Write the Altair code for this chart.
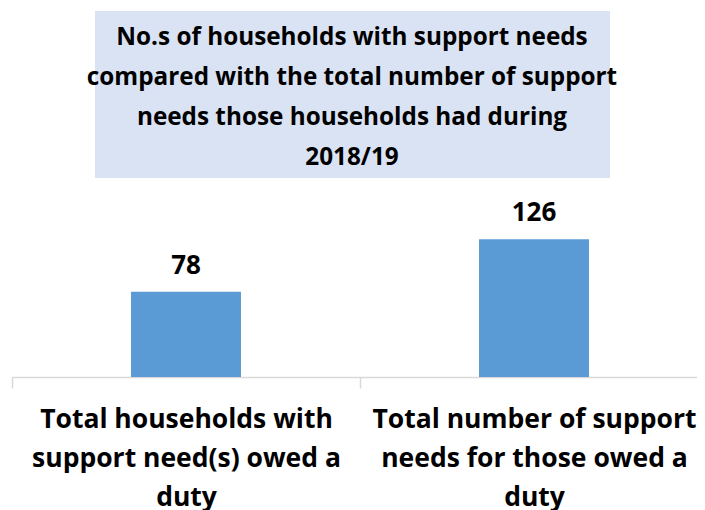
import altair as alt
import pandas as pd

TITLE_LINES = [
    "No.s of households with support needs",
    "compared with the total number of support",
    "needs those households had during",
    "2018/19",
]
CATEGORIES = [
    "Total households with|support need(s) owed a|duty",
    "Total number of support|needs for those owed a|duty",
]
VALUES = [78, 126]

df = pd.DataFrame({"category": CATEGORIES, "value": VALUES})

FONT = "Open Sans"
BAR = "#5B9BD5"

x = alt.X(
    "category:N",
    sort=CATEGORIES,
    title=None,
    scale=alt.Scale(paddingInner=0, paddingOuter=0, range=[0, 696]),
    axis=alt.Axis(
        labelExpr="split(datum.label, '|')",
        labelAngle=0,
        labelFont=FONT,
        labelFontSize=26.5,
        labelFontWeight="bold",
        labelColor="#000000",
        labelLineHeight=39,
        labelLimit=0,
        labelPadding=18,
        domainColor="#D9D9D9",
        domainWidth=1.5,
        tickColor="#D9D9D9",
        tickWidth=1.5,
        tickSize=11,
        tickBand="extent",
    ),
)
y = alt.Y("value:Q", axis=None, scale=alt.Scale(domain=[0, 182], nice=False, zero=True))

base = alt.Chart(df)

bars = base.mark_bar(color=BAR, width=alt.RelativeBandSize(0.316)).encode(x=x, y=y)
labels = base.mark_text(
    font=FONT, fontSize=26, fontWeight="bold", color="#000000",
    baseline="alphabetic", dy=-18,
).encode(x=x, y=y, text="value:Q")

title_box = alt.Chart(pd.DataFrame({"k": [0]})).mark_rect(color="#DAE3F3").encode(
    x=alt.value(83), x2=alt.value(598), y=alt.value(-167), y2=alt.value(0)
)
title_text = alt.Chart(pd.DataFrame({"k": [0]})).mark_text(
    text=TITLE_LINES, font=FONT, fontSize=24.3, fontWeight="bold", color="#000000",
    lineHeight=40, baseline="middle", align="center",
).encode(x=alt.value(340), y=alt.value(-140))

chart = alt.layer(title_box, title_text, bars, labels).properties(
    width=685,
    height=199,
    autosize=alt.AutoSizeParams(type="none"),
    padding={"top": 170, "left": 4, "right": 0, "bottom": 140},
).configure_view(stroke=None)

chart.save("out.html", embed_options={"renderer": "svg", "actions": False})
